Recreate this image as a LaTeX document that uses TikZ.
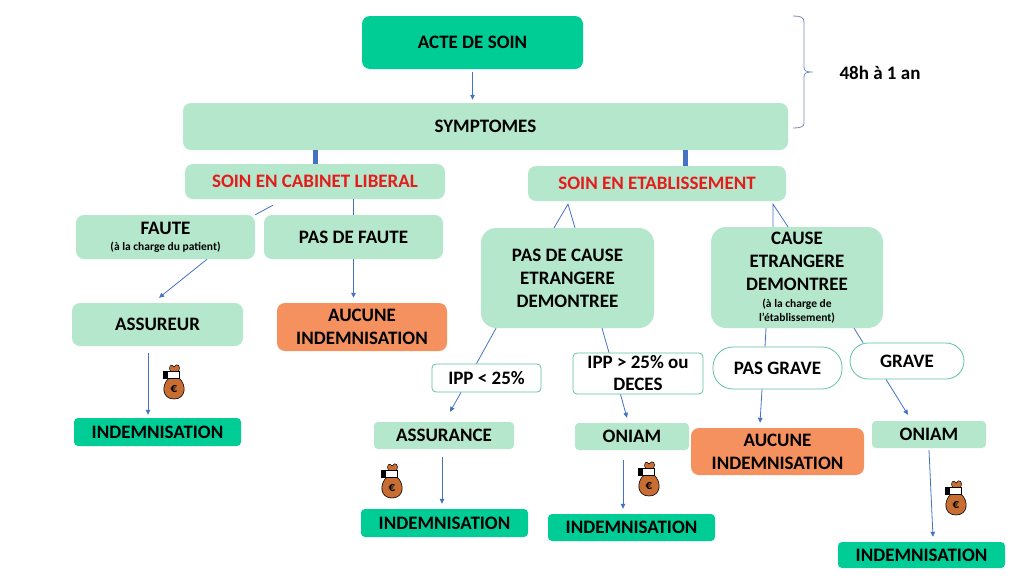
\documentclass[tikz,border=0pt]{standalone}
\usepackage{fontspec}
\setmainfont{Carlito}
\usetikzlibrary{arrows.meta}
\definecolor{tealc}{RGB}{0,204,150}
\definecolor{mint}{RGB}{180,231,204}
\definecolor{orangec}{RGB}{245,145,95}
\definecolor{redtxt}{RGB}{228,28,28}
\definecolor{arrc}{RGB}{68,114,196}
\definecolor{bracec}{RGB}{120,140,180}
\definecolor{wborder}{RGB}{95,195,165}
\definecolor{bagc}{RGB}{200,110,50}
\newcommand\txtA{\fontsize{19}{23}\selectfont\bfseries}
\newcommand\txtS{\fontsize{11.5}{14}\selectfont\bfseries}
\tikzset{
  box/.style={rectangle, rounded corners=8pt, inner sep=0pt, font=\txtA, text=black, align=center},
  mintbox/.style={box, fill=mint},
  tealbox/.style={box, fill=tealc},
  orbox/.style={box, fill=orangec},
  bigbox/.style={box, fill=mint, rounded corners=15pt},
  wbox/.style={box, fill=white, draw=wborder, line width=0.8pt, rounded corners=4pt},
  pillbox/.style={box, fill=white, draw=wborder, line width=0.8pt, rounded corners=18pt},
  ln/.style={draw=arrc, line width=0.8pt},
  arr/.style={ln, -{Triangle[length=5pt,width=4.5pt]}},
  thickbar/.style={draw=arrc, line width=5pt},
  bag/.pic={
    \fill[bagc, draw=black, line width=0.6pt] (-5,-3) .. controls (-13,4) and (-12,18) .. (0,18) .. controls (12,18) and (13,4) .. (5,-3) -- cycle;
    \fill[bagc, draw=black, line width=0.5pt] (-3,-9) .. controls (-7,-15) and (-2,-18) .. (0,-14) .. controls (3,-19) and (8,-15) .. (4,-9) -- cycle;
    \fill[white, draw=black, line width=0.6pt] (-7,-10) rectangle (5,-3);
    \fill[black] (-11,-10) rectangle (-7,-2);
    \node[font=\fontsize{13}{13}\selectfont\bfseries, text=black] at (0,8) {€};
  }
}
\begin{document}
\begin{tikzpicture}[x=1pt,y=-1pt]
\fill[white] (0,0) rectangle (1024,576);
\useasboundingbox (0,0) rectangle (1024,576);

% nodes
\node[tealbox, minimum width=221pt, minimum height=53pt] (acte) at (472.5,42.5) {ACTE DE SOIN};
\node[mintbox, minimum width=605pt, minimum height=47pt] (sympt) at (485.5,126.5) {SYMPTOMES};
\node[mintbox, text=redtxt, minimum width=260pt, minimum height=35pt] (cab) at (315,181.5) {SOIN EN CABINET LIBERAL};
\node[mintbox, text=redtxt, minimum width=258pt, minimum height=35pt] (etab) at (657,183.5) {SOIN EN ETABLISSEMENT};
\node[mintbox, minimum width=179pt, minimum height=44pt] (faute) at (165.5,237) {FAUTE\\[-7pt]{\txtS (à la charge du patient)}};
\node[mintbox, minimum width=179pt, minimum height=44pt] (pasfaute) at (353.5,237) {PAS DE FAUTE};
\node[mintbox, minimum width=171pt, minimum height=43pt] (assureur) at (157.5,324.5) {ASSUREUR};
\node[orbox, minimum width=170pt, minimum height=48pt] (aucune1) at (362,327) {AUCUNE\\INDEMNISATION};
\node[tealbox, rounded corners=4pt, minimum width=167pt, minimum height=28pt] (indem1) at (157.5,432) {INDEMNISATION};
\node[bigbox, minimum width=173pt, minimum height=100pt] (pascause) at (567.5,278) {PAS DE CAUSE\\ETRANGERE\\DEMONTREE};
\node[bigbox, minimum width=172pt, minimum height=101pt] (cause) at (797,277.5) {CAUSE\\ETRANGERE\\DEMONTREE\\[-6pt]{\txtS (à la charge de}\\[-9pt]{\txtS l’établissement)}};
\node[wbox, minimum width=109pt, minimum height=28pt] (ipp1) at (486.5,378) {IPP < 25\%};
\node[wbox, minimum width=130pt, minimum height=41pt] (ipp2) at (638,373.5) {IPP > 25\% ou\\[-1pt]DECES};
\node[pillbox, rounded corners=20pt, minimum width=129pt, minimum height=42pt] (pasgrave) at (777.5,368) {PAS GRAVE};
\node[pillbox, minimum width=114pt, minimum height=36pt] (grave) at (907,361) {GRAVE};
\node[mintbox, rounded corners=4pt, minimum width=140pt, minimum height=27pt] (assurance) at (444,435.5) {ASSURANCE};
\node[mintbox, rounded corners=4pt, minimum width=114pt, minimum height=27pt] (oniam1) at (632,436.5) {ONIAM};
\node[orbox, minimum width=173pt, minimum height=47pt] (aucune2) at (777.5,451.5) {AUCUNE\\INDEMNISATION};
\node[mintbox, rounded corners=4pt, minimum width=114pt, minimum height=27pt] (oniam2) at (929,434.5) {ONIAM};
\node[tealbox, rounded corners=4pt, minimum width=167pt, minimum height=28pt] (indem2) at (444.5,523) {INDEMNISATION};
\node[tealbox, rounded corners=4pt, minimum width=167pt, minimum height=27pt] (indem3) at (631.5,527.5) {INDEMNISATION};
\node[tealbox, rounded corners=4pt, minimum width=167pt, minimum height=26pt] (indem4) at (921.5,555) {INDEMNISATION};
\node[font=\txtA, text=black, inner sep=0pt] (delai) at (880,73) {48h à 1 an};

% brace
\draw[bracec, line width=0.8pt] (793,16) .. controls (800,16) and (804,17) .. (804,22) -- (804,67) .. controls (804,71) and (806,72) .. (813,72) .. controls (806,72) and (804,73) .. (804,77) -- (804,123) .. controls (804,127) and (800,128) .. (793,128);

% connectors
\draw[arr, shorten <=3pt, shorten >=3pt] (acte.south) -- (acte.south |- sympt.north);
\draw[thickbar] (cab.north |- sympt.south) -- (cab.north);
\coordinate (eb) at ([xshift=28pt]etab.north);
\draw[thickbar] (eb |- sympt.south) -- (eb);

\draw[ln] ([xshift=-42pt,yshift=-6pt]cab.south) -- (faute.north east);
\draw[ln] (pasfaute.north |- cab.south) -- (pasfaute.north);
\draw[arr] ([xshift=41.5pt]faute.south) -- ([xshift=1.5pt,yshift=5pt]assureur.north);
\draw[arr, shorten >=5pt] (pasfaute.south) -- (pasfaute.south |- aucune1.north);
\coordinate (a1) at ([xshift=-9.5pt,yshift=-7pt]assureur.south);
\draw[arr, shorten >=3pt] (a1) -- (a1 |- indem1.north);

\coordinate (c1) at ([xshift=-89pt,yshift=-3pt]etab.south);
\draw[ln] ([xshift=-13.5pt]pascause.north) -- (c1) -- ([xshift=7.5pt]pascause.north);
\coordinate (c2) at ([xshift=116pt,yshift=-3pt]etab.south);
\draw[ln] ([xshift=-24pt]cause.north) -- (c2) -- ([xshift=-9pt]cause.north);

\draw[ln] ([xshift=-71.5pt]pascause.south) -- ([xshift=-10pt]ipp1.north);
\draw[arr] ([xshift=-25.5pt]ipp1.south) -- ([xshift=6pt,yshift=10pt]assurance.north);
\draw[ln] ([xshift=34.5pt]pascause.south) -- ([xshift=-29pt]ipp2.north);
\draw[arr] ([xshift=-17.5pt]ipp2.south) -- ([xshift=-5pt,yshift=5pt]oniam1.north);
\draw[ln] ([xshift=-31pt]cause.south) -- ([xshift=-12.5pt]pasgrave.north);
\draw[arr] ([xshift=-15.5pt]pasgrave.south) -- ([xshift=-17.5pt,yshift=5pt]aucune2.north);
\draw[ln] ([xshift=57pt]cause.south) -- ([xshift=-44pt]grave.north);
\draw[arr] ([xshift=-21pt]grave.south) -- ([xshift=-21pt,yshift=6pt]oniam2.north);

\coordinate (a2) at ([xshift=-2pt,yshift=-8pt]assurance.south);
\draw[arr, shorten >=5pt] (a2) -- (a2 |- indem2.north);
\coordinate (a3) at ([xshift=-9pt,yshift=-10pt]oniam1.south);
\draw[arr, shorten >=5pt] (a3) -- (a3 |- indem3.north);
\draw[arr] ([yshift=-2pt]oniam2.south) -- ([xshift=11.5pt,yshift=5pt]indem4.north);

% money bags
\pic at (174,381) {bag};
\pic at (392,480) {bag};
\pic at (649,478) {bag};
\pic at (956,497) {bag};
\end{tikzpicture}
\end{document}
